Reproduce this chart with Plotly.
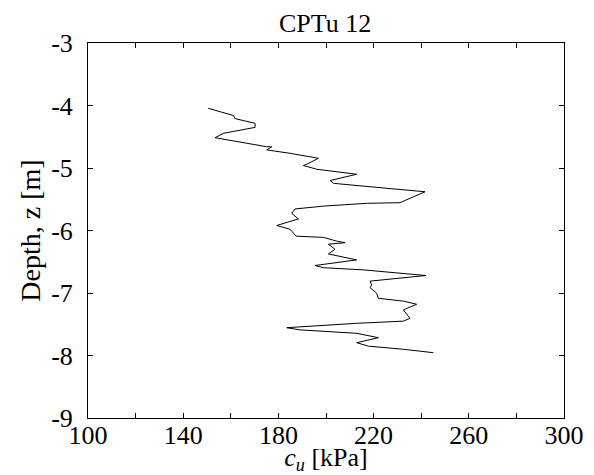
import plotly.graph_objects as go

# undrained shear strength profile
cu_kpa = [
    150.5, 161.1, 161.8, 170.2, 170.2, 156.9, 153.4, 168.1, 175.1, 177.2,
    175.1, 184.9, 196.8, 191.9, 190.5, 196.1, 205.9, 212.9, 201.7, 203.1,
    215.7, 229.7, 241.6, 231.1, 217.1, 198.9, 187.0, 185.6, 188.4, 179.3,
    184.9, 187.4, 198.9, 204.5, 208.0, 201.0, 203.8, 201.0, 212.9, 195.4,
    198.9, 215.7, 242.0, 218.5, 219.2, 218.5, 221.3, 222.0, 232.5, 238.1,
    232.5, 235.3, 232.5, 212.9, 183.5, 189.1, 212.9, 222.0, 218.5, 212.9,
    217.8, 232.5, 245.1,
]
depth_m = [
    -4.045, -4.16, -4.21, -4.285, -4.35, -4.445, -4.515, -4.62, -4.66, -4.66,
    -4.71, -4.765, -4.845, -4.94, -4.96, -5.02, -5.06, -5.10, -5.20, -5.245,
    -5.29, -5.34, -5.38, -5.555, -5.565, -5.61, -5.655, -5.725, -5.815, -5.92,
    -5.98, -6.09, -6.11, -6.17, -6.195, -6.22, -6.30, -6.375, -6.47, -6.56,
    -6.595, -6.63, -6.72, -6.81, -6.87, -6.915, -7.005, -7.085, -7.13, -7.18,
    -7.27, -7.405, -7.45, -7.485, -7.555, -7.59, -7.645, -7.715, -7.75, -7.795,
    -7.85, -7.90, -7.955,
]

x_ticks = [100, 120, 140, 160, 180, 200, 220, 240, 260, 280, 300]
x_labels = ["100", "", "140", "", "180", "", "220", "", "260", "", "300"]
y_ticks = [-3, -4, -5, -6, -7, -8, -9]
y_labels = ["-3", "-4", "-5", "-6", "-7", "-8", "-9"]

font = "Liberation Serif, Times New Roman, serif"

fig = go.Figure()
fig.add_trace(
    go.Scatter(
        x=cu_kpa,
        y=depth_m,
        mode="lines",
        line=dict(color="black", width=1),
        showlegend=False,
    )
)

axis_style = dict(
    showgrid=False,
    zeroline=False,
    showline=True,
    linecolor="black",
    linewidth=1,
    mirror="ticks",
    ticks="inside",
    ticklen=5,
    tickcolor="black",
    automargin=False,
    tickfont=dict(family=font, size=26, color="black"),
)

fig.update_xaxes(
    range=[100, 300],
    tickvals=x_ticks,
    ticktext=x_labels,
    ticklabelstandoff=-6,
    title=dict(text="<i>c</i><sub><i>u</i></sub> [kPa]", standoff=3,
               font=dict(family=font, size=26, color="black")),
    **axis_style,
)
fig.update_yaxes(
    range=[-9, -3],
    tickvals=y_ticks,
    ticktext=y_labels,
    ticklabelstandoff=9,
    title=dict(text="Depth, z [m]", standoff=2,
               font=dict(family=font, size=28, color="black")),
    **axis_style,
)

# the page body adds about 8px around the figure, so margins are shifted by that
fig.update_layout(
    width=586,
    height=467,
    paper_bgcolor="white",
    plot_bgcolor="white",
    margin=dict(l=80, r=30, t=35, b=57),
    title=dict(
        text="CPTu 12",
        x=0.541,
        xanchor="center",
        y=0.968,
        yanchor="middle",
        font=dict(family=font, size=26, color="black"),
    ),
)

fig.write_html("out.html")
